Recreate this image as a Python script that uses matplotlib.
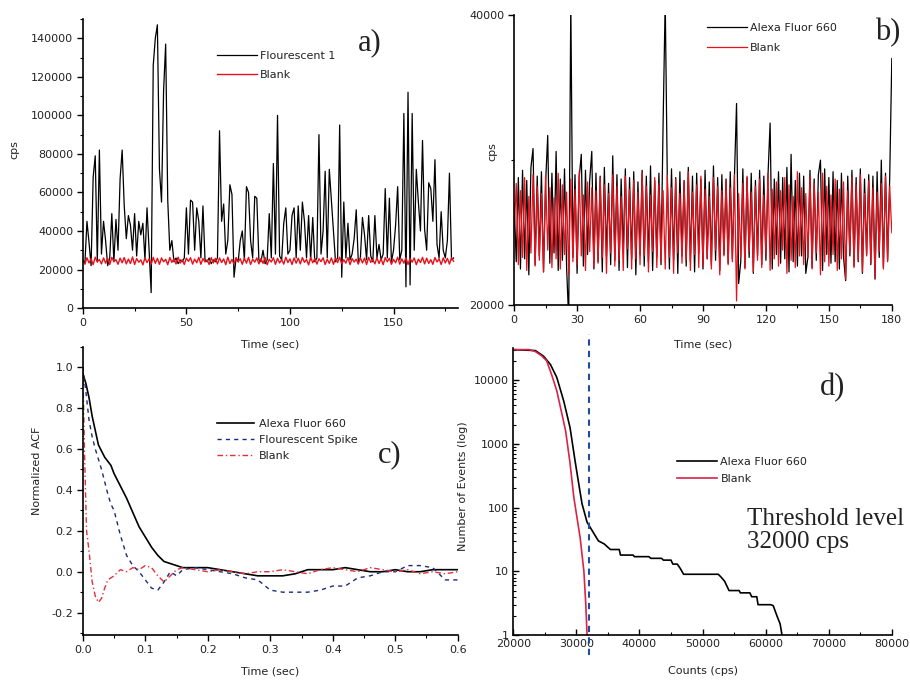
import numpy as np
import matplotlib
matplotlib.use('Agg')
from matplotlib import pyplot as plt
from matplotlib.ticker import MultipleLocator, NullFormatter, FixedLocator, LogLocator

plt.rcParams['font.family'] = ['DejaVu Sans']
plt.rcParams['font.size'] = 8

# ---------------- a) fluorescent trace vs blank, 1 s bins ----------------
fluor_a = [25000, 23000, 45000, 34000, 22000, 68000, 79000, 24000, 82000, 28000,
           45000, 35000, 22000, 26000, 49000, 24000, 46000, 30000, 67000, 82000,
           53000, 36000, 48000, 43000, 30000, 49000, 27000, 45000, 38000, 44000,
           25000, 52000, 30000, 8000, 126000, 140000, 147000, 72000, 55000, 113000,
           137000, 56000, 30000, 35000, 24000, 26000, 23000, 25000, 24000, 26000,
           52000, 28000, 56000, 55000, 30000, 52000, 45000, 26000, 53000, 25000,
           24000, 26000, 23000, 25000, 24000, 26000, 92000, 45000, 54000, 28000,
           35000, 64000, 59000, 16000, 26000, 24000, 35000, 40000, 25000, 63000,
           60000, 35000, 26000, 58000, 57000, 25000, 24000, 30000, 23000, 25000,
           49000, 26000, 75000, 28000, 100000, 27000, 25000, 44000, 52000, 28000,
           30000, 48000, 52000, 26000, 53000, 30000, 55000, 45000, 26000, 48000,
           25000, 47000, 24000, 26000, 90000, 28000, 40000, 71000, 26000, 72000,
           56000, 40000, 24000, 26000, 95000, 16000, 55000, 26000, 44000, 25000,
           28000, 36000, 51000, 24000, 26000, 47000, 38000, 25000, 48000, 27000,
           24000, 48000, 26000, 33000, 25000, 28000, 62000, 26000, 57000, 24000,
           30000, 43000, 63000, 25000, 30000, 101000, 11000, 112000, 12000, 101000,
           30000, 72000, 55000, 40000, 87000, 41000, 30000, 65000, 62000, 45000,
           77000, 33000, 26000, 50000, 30000, 26000, 35000, 70000, 25000, 26000]

blank_a = [24500, 22800, 26100, 23400, 25600, 22500, 26400, 23900, 25200, 22900,
           26000, 23300, 25800, 22600, 26300, 24100, 25100, 22700, 25900, 23500,
           26200, 22900, 25400, 23100, 26500, 22600, 25700, 23800, 25000, 22400,
           26100, 23600, 25500, 22800, 26300, 23200, 25800, 22700, 26000, 24000,
           25300, 22500, 26200, 23700, 25600, 22900, 26400, 23300, 25100, 22600,
           25900, 24200, 26100, 22800, 25400, 23500, 26300, 22700, 25700, 23900,
           25000, 22600, 26200, 23400, 25800, 22900, 26000, 23600, 25500, 22500,
           26400, 23100, 25200, 22800, 26100, 24000, 25600, 22700, 25900, 23300,
           26300, 22600, 25400, 23800, 26000, 22900, 25700, 23200, 26200, 22500,
           25300, 23900, 26100, 22700, 25800, 23400, 25100, 22800, 26400, 23600,
           25500, 22600, 26000, 23300, 25900, 22900, 26200, 23700, 25200, 22400,
           26300, 23500, 25700, 22800, 25600, 24100, 26100, 22600, 25300, 23200,
           26000, 22700, 25800, 23600, 26400, 22900, 25100, 23300, 26200, 22500,
           25700, 23900, 25400, 22800, 26100, 23400, 25900, 22600, 26300, 23700,
           25200, 22900, 26000, 23100, 25600, 22500, 26200, 24000, 25800, 22700,
           25300, 23500, 26400, 22800, 25500, 23300, 26100, 22600, 25700, 23800,
           26000, 22500, 25400, 23600, 26300, 22900, 25900, 23200, 25100, 22700,
           26200, 23900, 25600, 22600, 26000, 23400, 25800, 22800, 26100, 24300]

# ---------------- b) Alexa Fluor 660 vs blank, 1 s bins ----------------
alexa_b = [27000, 23000, 28800, 22500, 29300, 23200, 28600, 22100, 29500, 30800,
           22800, 28900, 23400, 29200, 22300, 28500, 31700, 22900, 29100, 23600,
           30600, 22400, 28700, 23100, 29400, 22600, 19000, 41000, 23300, 29000,
           22200, 28800, 30400, 22700, 29300, 23500, 28600, 30600, 22500, 29100,
           23000, 28900, 22300, 29500, 23400, 28400, 22800, 30300, 23100, 29000,
           22400, 28700, 23600, 29400, 22600, 28800, 23200, 29200, 22100, 28500,
           23500, 29300, 22700, 28900, 23000, 29600, 22400, 28600, 23300, 29100,
           22800, 32600, 41000, 28700, 22500, 29400, 23100, 28800, 22200, 29200,
           23400, 28600, 22700, 29500, 23000, 28900, 22300, 29100, 23600, 28700,
           22500, 29300, 23200, 28500, 22800, 29600, 23100, 28800, 22400, 29000,
           23500, 28700, 22900, 29200, 23200, 28900, 33900, 21500, 23000, 29400,
           22600, 28800, 23300, 29100, 22200, 28600, 23400, 29300, 22800, 28900,
           23100, 29000, 32550, 22500, 28700, 23500, 29200, 22900, 28800, 23200,
           29500, 22300, 30400, 23000, 28600, 22700, 29100, 23400, 28900, 22200,
           23300, 29300, 22600, 28700, 23100, 29000, 30000, 22400, 29400, 23500,
           28800, 22900, 29200, 23000, 28600, 22500, 29100, 23300, 21700, 28900,
           23400, 29300, 22700, 28800, 23000, 29400, 22200, 28700, 23500, 29000,
           22800, 28900, 21800, 29200, 23300, 30000, 22600, 29100, 23100, 28800,
           37000]

blank_b = [25000, 28400, 22800, 27900, 23300, 28800, 22400, 27500, 23600, 29000,
           22700, 28200, 23100, 27700, 22300, 28900, 23800, 28100, 22600, 27400,
           23200, 29100, 22500, 28300, 23500, 27800, 22100, 28700, 23000, 28000,
           22800, 29200, 23400, 27600, 22400, 28500, 23700, 28100, 22600, 27900,
           22900, 28800, 23300, 28300, 22200, 27700, 23600, 29000, 22700, 28200,
           23100, 27500, 22400, 28900, 23900, 28000, 22500, 28600, 23200, 27800,
           22800, 29100, 23400, 28200, 22300, 27600, 23700, 28800, 22600, 28400,
           23000, 27900, 22500, 29000, 23300, 28100, 22200, 28700, 23600, 27700,
           22900, 28500, 23100, 29200, 22400, 27800, 23500, 28300, 22600, 28900,
           22700, 28000, 23200, 27500, 22500, 28800, 23800, 28200, 22100, 27900,
           23400, 28600, 22800, 28100, 23000, 29000, 20300, 27700, 23300, 28400,
           22500, 28900, 23700, 27800, 22300, 28200, 23100, 28700, 22600, 27600,
           23500, 29100, 22400, 28000, 23200, 28500, 22700, 27900, 23800, 28800,
           22200, 28300, 23100, 27500, 22600, 29200, 23400, 28100, 22800, 27700,
           23300, 28900, 22500, 28400, 23600, 27800, 22100, 29100, 23000, 28200,
           22700, 27600, 23500, 28700, 22400, 28000, 23200, 28500, 21800, 27900,
           23600, 28800, 22600, 28300, 23100, 29000, 22300, 27700, 23400, 28600,
           22900, 28100, 21900, 27800, 23700, 28400, 22500, 28900, 23000, 28200,
           25000]

# ---------------- c) normalized ACF ----------------
t_alexa_c = [0, 0.005, 0.01, 0.015, 0.02, 0.025, 0.03, 0.035, 0.04, 0.045, 0.05,
             0.06, 0.07, 0.08, 0.09, 0.10, 0.11, 0.12, 0.13, 0.14, 0.15, 0.16,
             0.18, 0.20, 0.22, 0.24, 0.26, 0.28, 0.30, 0.32, 0.34, 0.36, 0.38,
             0.40, 0.42, 0.44, 0.46, 0.48, 0.50, 0.52, 0.54, 0.56, 0.58, 0.60]
acf_alexa = [0.97, 0.92, 0.85, 0.76, 0.69, 0.62, 0.59, 0.56, 0.54, 0.52, 0.48,
             0.42, 0.36, 0.29, 0.22, 0.17, 0.12, 0.08, 0.05, 0.04, 0.03, 0.02,
             0.02, 0.02, 0.01, 0.00, -0.01, -0.02, -0.02, -0.02, -0.01, 0.01, 0.01,
             0.01, 0.02, 0.01, 0.00, 0.00, 0.01, 0.00, 0.00, 0.01, 0.01, 0.01]

t_spike_c = [0, 0.005, 0.01, 0.015, 0.02, 0.025, 0.03, 0.035, 0.04, 0.045, 0.05,
             0.055, 0.06, 0.065, 0.07, 0.08, 0.09, 0.10, 0.11, 0.12, 0.13, 0.14,
             0.15, 0.16, 0.18, 0.20, 0.22, 0.24, 0.26, 0.28, 0.30, 0.32, 0.34,
             0.36, 0.38, 0.40, 0.42, 0.44, 0.46, 0.48, 0.50, 0.52, 0.54, 0.56,
             0.58, 0.60]
acf_spike = [1.0, 0.88, 0.74, 0.66, 0.60, 0.55, 0.50, 0.44, 0.38, 0.33, 0.30,
             0.24, 0.18, 0.13, 0.08, 0.03, 0.0, -0.04, -0.08, -0.09, -0.05, 0.0,
             -0.02, 0.01, 0.02, 0.01, 0.0, -0.01, -0.03, -0.04, -0.09, -0.10, -0.10,
             -0.10, -0.09, -0.07, -0.07, -0.03, -0.02, 0.0, 0.0, 0.03, 0.03, 0.02,
             -0.04, -0.04]

t_blank_c = [0, 0.003, 0.006, 0.01, 0.015, 0.02, 0.025, 0.03, 0.035, 0.04,
             0.05, 0.06, 0.07, 0.08, 0.09, 0.10, 0.11, 0.12, 0.13, 0.14, 0.15, 0.16,
             0.18, 0.20, 0.22, 0.24, 0.26, 0.28, 0.30, 0.32, 0.34, 0.36, 0.38,
             0.40, 0.42, 0.44, 0.46, 0.48, 0.50, 0.52, 0.54, 0.56, 0.58, 0.60]
acf_blank = [1.0, 0.55, 0.20, 0.10, -0.05, -0.12, -0.15, -0.13, -0.08, -0.04,
             -0.02, 0.01, 0.0, 0.02, 0.01, 0.03, 0.02, -0.02, -0.05, -0.02, 0.01, 0.02,
             0.01, 0.0, 0.01, 0.0, -0.01, 0.0, 0.0, 0.01, 0.0, -0.01, 0.01,
             0.02, 0.01, 0.0, 0.02, 0.01, 0.0, 0.01, -0.01, 0.0, -0.01, 0.0]

# ---------------- d) cumulative events above count level ----------------
counts_alexa_d = [20000, 23500, 24800, 25900, 26900, 28000, 29000, 29800, 30300,
                  30900, 31700, 32800, 33500, 34400, 35400, 36800, 37000, 39000,
                  39200, 41500, 41800, 43500, 43800, 45000, 45300, 46000, 46500,
                  47000, 52500, 53000, 53500, 54200, 55800, 56000, 57500, 57800,
                  58600, 58800, 60800, 61200, 61800, 62300, 62600]
events_alexa_d = [30000, 29000, 23700, 17500, 11000, 4700, 1800, 540, 265,
                  115, 59, 39, 30, 27, 22, 22, 18, 18,
                  17, 17, 16, 16, 15, 15, 13, 13, 11,
                  9, 9, 8, 7, 5, 5, 4.6, 4.6, 4,
                  4, 3, 3, 2.9, 2, 1.5, 1]
counts_blank_d = [20000, 22500, 23500, 24500, 25300, 26100, 26900, 27600, 28300,
                  29000, 29600, 30100, 30600, 31000, 31200, 31500, 31700]
events_blank_d = [30000, 30000, 28000, 24000, 20000, 12000, 6800, 3300, 1600,
                  500, 145, 70, 34, 15, 10, 3, 1]
threshold = 32000

TXT = '#222222'
RED = '#e8101a'


def estilo(ax, direc='out'):
    # ejes tipo Origin: solo izquierda y abajo
    ax.patch.set_visible(False)
    ax.spines['top'].set_visible(False)
    ax.spines['right'].set_visible(False)
    ax.spines['left'].set_linewidth(1.2)
    ax.spines['bottom'].set_linewidth(1.2)
    ax.tick_params(which='major', direction=direc, length=4, width=1, pad=3,
                   labelsize=8, labelcolor=TXT)
    ax.tick_params(which='minor', direction=direc, length=2.5, width=0.8)


def letra(ax, x, y, s):
    ax.text(x, y, s, transform=ax.transAxes, ha='center', va='center',
            fontsize=22, family='Liberation Serif', color='#222222')


fig = plt.figure(figsize=(9.1, 6.8), dpi=100)
ax_a = fig.add_axes([0.091, 0.547, 0.412, 0.425])
ax_b = fig.add_axes([0.565, 0.551, 0.415, 0.427])
ax_c = fig.add_axes([0.091, 0.066, 0.412, 0.424])
ax_d = fig.add_axes([0.564, 0.066, 0.416, 0.422])

# a)
t_a = np.arange(len(fluor_a))
ax_a.plot(t_a, fluor_a, color='black', lw=0.9, label='Flourescent 1')
ax_a.plot(t_a, blank_a, color=RED, lw=1.0, label='Blank')
ax_a.set_xlim(0, 181)
ax_a.set_ylim(0, 150000)
ax_a.xaxis.set_major_locator(MultipleLocator(50))
ax_a.xaxis.set_minor_locator(MultipleLocator(25))
ax_a.yaxis.set_major_locator(MultipleLocator(20000))
ax_a.yaxis.set_minor_locator(MultipleLocator(10000))
estilo(ax_a)
ax_a.set_xlabel('Time (sec)', color=TXT)
ax_a.set_ylabel('cps', color=TXT)
ax_a.xaxis.set_label_coords(0.5, -0.108)
ax_a.yaxis.set_label_coords(-0.17, 0.55)
ax_a.legend(loc='upper left', bbox_to_anchor=(0.357, 0.89), frameon=False,
            borderpad=0, borderaxespad=0, handlelength=3.6, handletextpad=0.3,
            labelspacing=0.8, fontsize=8, labelcolor=TXT)
letra(ax_a, 0.765, 0.917, 'a)')

# b)
t_b = np.arange(len(alexa_b))
ax_b.plot(t_b, alexa_b, color='black', lw=0.9, label='Alexa Fluor 660')
ax_b.plot(t_b, blank_b, color=RED, lw=0.9, label='Blank')
ax_b.set_xlim(0, 180)
ax_b.set_ylim(20000, 40000)
ax_b.xaxis.set_major_locator(MultipleLocator(30))
ax_b.xaxis.set_minor_locator(MultipleLocator(15))
ax_b.yaxis.set_major_locator(FixedLocator([20000, 40000]))
ax_b.yaxis.set_minor_locator(FixedLocator([30000]))
estilo(ax_b)
ax_b.set_xlabel('Time (sec)', color=TXT)
ax_b.set_ylabel('cps', color=TXT)
ax_b.xaxis.set_label_coords(0.5, -0.118)
ax_b.yaxis.set_label_coords(-0.045, 0.53)
ax_b.legend(loc='upper left', bbox_to_anchor=(0.51, 0.972), frameon=False,
            borderpad=0, borderaxespad=0, handlelength=3.6, handletextpad=0.3,
            labelspacing=0.9, fontsize=8, labelcolor=TXT)
letra(ax_b, 0.99, 0.938, 'b)')

# c)
ax_c.plot(t_alexa_c, acf_alexa, color='black', lw=1.2, label='Alexa Fluor 660')
ax_c.plot(t_spike_c, acf_spike, color='#1c2a7a', lw=1.0, ls=(0, (3, 3)),
          label='Flourescent Spike')
ax_c.plot(t_blank_c, acf_blank, color='#e0303a', lw=1.0, ls=(0, (4, 2, 1, 2)),
          label='Blank')
ax_c.set_xlim(0, 0.6)
ax_c.set_ylim(-0.31, 1.1)
ax_c.xaxis.set_major_locator(MultipleLocator(0.1))
ax_c.xaxis.set_minor_locator(MultipleLocator(0.05))
ax_c.yaxis.set_major_locator(MultipleLocator(0.2))
ax_c.yaxis.set_minor_locator(MultipleLocator(0.1))
ax_c.xaxis.set_major_formatter(lambda v, p: f'{v:.1f}')
ax_c.yaxis.set_major_formatter(lambda v, p: f'{v:.1f}')
estilo(ax_c)
ax_c.set_xlabel('Time (sec)', color=TXT)
ax_c.set_ylabel('Normalized ACF', color=TXT)
ax_c.xaxis.set_label_coords(0.5, -0.108)
ax_c.yaxis.set_label_coords(-0.11, 0.57)
ax_c.legend(loc='upper left', bbox_to_anchor=(0.357, 0.75), frameon=False,
            borderpad=0, borderaxespad=0, handlelength=3.4, handletextpad=0.4,
            labelspacing=0.55, fontsize=8, labelcolor=TXT)
letra(ax_c, 0.819, 0.625, 'c)')

# d)
ax_d.plot(counts_alexa_d, events_alexa_d, color='black', lw=1.2,
          label='Alexa Fluor 660')
ax_d.plot(counts_blank_d, events_blank_d, color='#d8244a', lw=1.2,
          label='Blank')
ax_d.axvline(threshold, ymin=-0.07, ymax=1.05, clip_on=False, color='#1f4e9c',
             lw=1.5, ls=(0, (3, 2.5)))
ax_d.set_yscale('log')
ax_d.set_xlim(20000, 80000)
ax_d.set_ylim(1, 31623)
ax_d.xaxis.set_major_locator(MultipleLocator(10000))
ax_d.xaxis.set_minor_locator(MultipleLocator(5000))
ax_d.yaxis.set_major_locator(FixedLocator([1, 10, 100, 1000, 10000]))
ax_d.yaxis.set_major_formatter(lambda v, p: f'{v:.0f}')
ax_d.yaxis.set_minor_locator(LogLocator(base=10, subs=np.arange(2, 10)))
ax_d.yaxis.set_minor_formatter(NullFormatter())
estilo(ax_d, 'in')
ax_d.set_xlabel('Counts (cps)', color=TXT)
ax_d.set_ylabel('Number of Events (log)', color=TXT)
ax_d.xaxis.set_label_coords(0.5, -0.108)
ax_d.yaxis.set_label_coords(-0.12, 0.52)
ax_d.legend(loc='upper left', bbox_to_anchor=(0.433, 0.62), frameon=False,
            borderpad=0, borderaxespad=0, handlelength=3.6, handletextpad=0.3,
            labelspacing=0.6, fontsize=8, labelcolor=TXT)
letra(ax_d, 0.844, 0.864, 'd)')
ax_d.text(0.617, 0.366, 'Threshold level\n32000 cps', transform=ax_d.transAxes,
          ha='left', va='center', fontsize=18, family='Liberation Serif',
          color='#222222', linespacing=1.05)

fig.savefig('out.png', dpi=100)
